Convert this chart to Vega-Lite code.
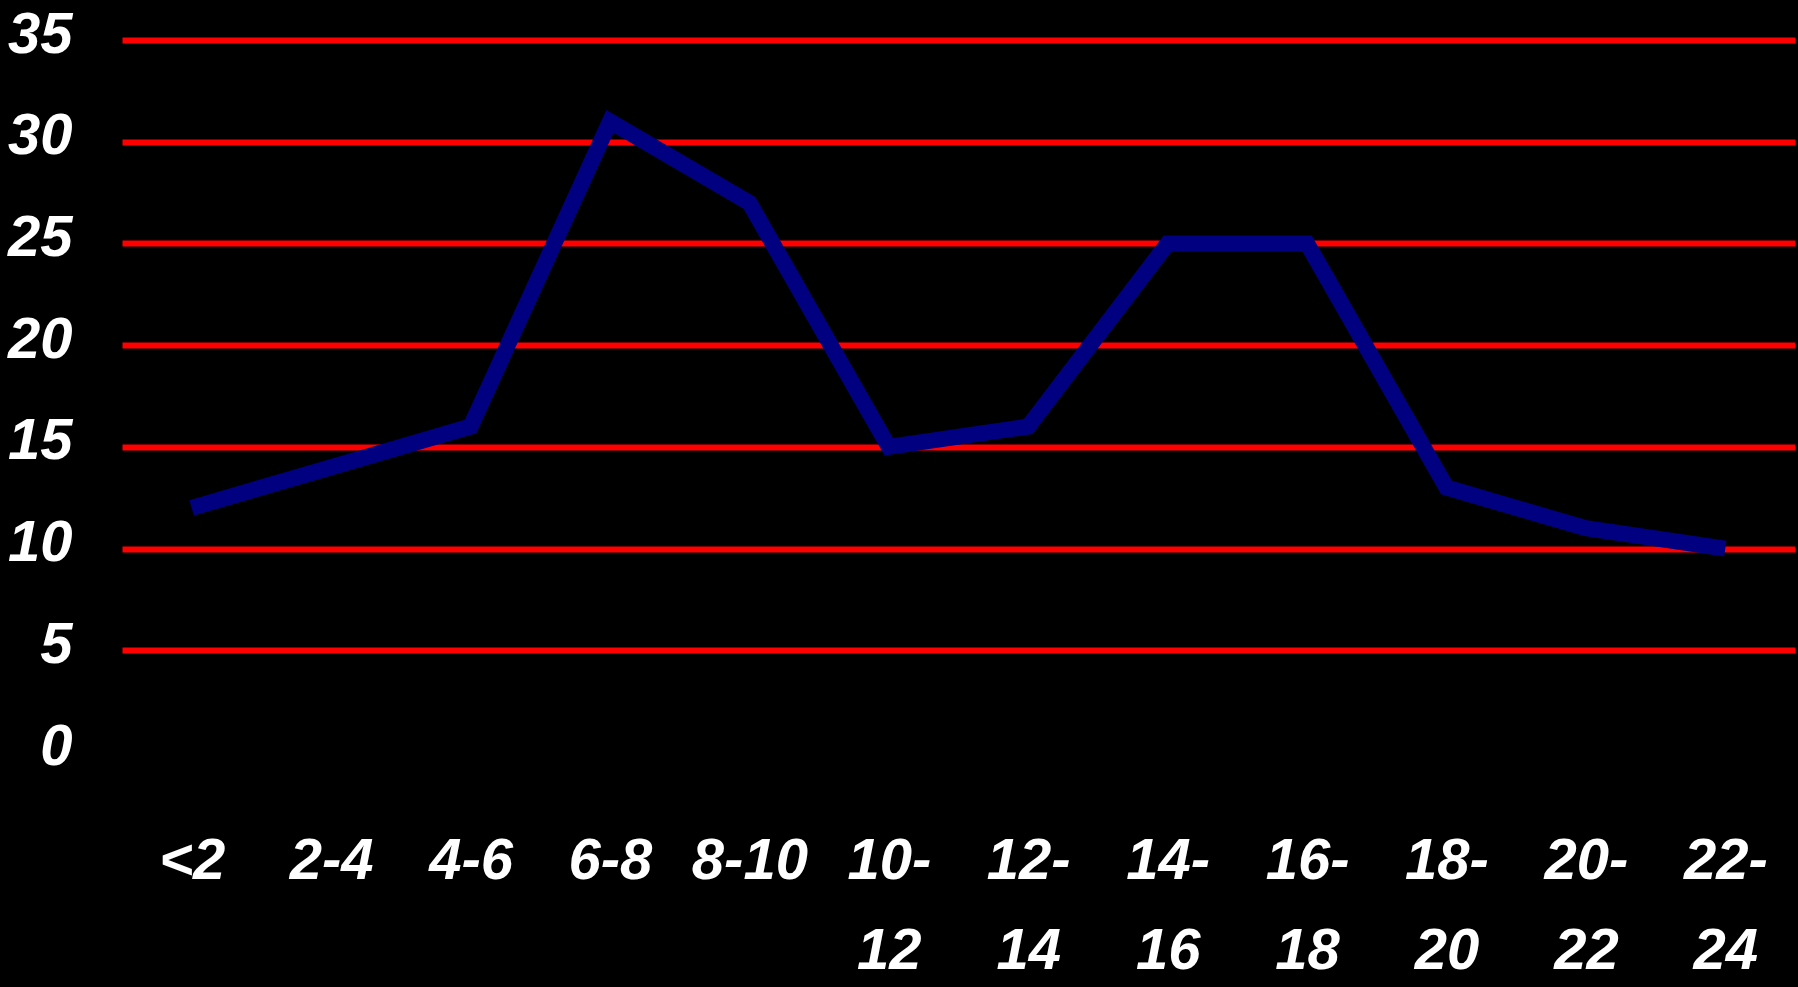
{
  "$schema": "https://vega.github.io/schema/vega-lite/v6.json",
  "autosize": {"type": "none"},
  "width": 1673,
  "height": 712,
  "padding": {"left": 122, "top": 40, "right": 3, "bottom": 235},
  "background": "black",
  "config": {"view": {"stroke": null}},
  "data": {
    "values": [
      {"age": "<2", "value": 12},
      {"age": "2-4", "value": 14},
      {"age": "4-6", "value": 16},
      {"age": "6-8", "value": 31},
      {"age": "8-10", "value": 27},
      {"age": "10-12", "value": 15},
      {"age": "12-14", "value": 16},
      {"age": "14-16", "value": 25},
      {"age": "16-18", "value": 25},
      {"age": "18-20", "value": 13},
      {"age": "20-22", "value": 11},
      {"age": "22-24", "value": 10}
    ]
  },
  "mark": {"type": "line", "color": "#000080", "strokeWidth": 16, "strokeJoin": "miter"},
  "encoding": {
    "x": {
      "field": "age",
      "type": "ordinal",
      "sort": null,
      "scale": {"type": "point", "padding": 0.5},
      "axis": {
        "title": null,
        "grid": false,
        "domain": false,
        "ticks": false,
        "labelAngle": 0,
        "labelFont": "Liberation Sans",
        "labelFontSize": 58,
        "labelFontWeight": "bold",
        "labelFontStyle": "italic",
        "labelColor": "white",
        "labelBaseline": "top",
        "labelLineHeight": 90,
        "labelPadding": 80,
        "labelOverlap": false,
        "labelBound": false,
        "labelExpr": "length(datum.label) > 4 ? [substring(datum.label, 0, 3), substring(datum.label, 3)] : datum.label"
      }
    },
    "y": {
      "field": "value",
      "type": "quantitative",
      "scale": {"domain": [0, 35], "nice": false},
      "axis": {
        "title": null,
        "values": [0, 5, 10, 15, 20, 25, 30, 35],
        "domain": false,
        "ticks": false,
        "grid": true,
        "gridColor": {"condition": {"test": "datum.value === 0", "value": "black"}, "value": "#ff0000"},
        "gridWidth": 6,
        "gridOpacity": 1,
        "labelFont": "Liberation Sans",
        "labelFontSize": 58,
        "labelFontWeight": "bold",
        "labelFontStyle": "italic",
        "labelColor": "white",
        "labelPadding": 50,
        "labelOffset": -5,
        "labelBound": false,
        "labelOverlap": false
      }
    }
  }
}
